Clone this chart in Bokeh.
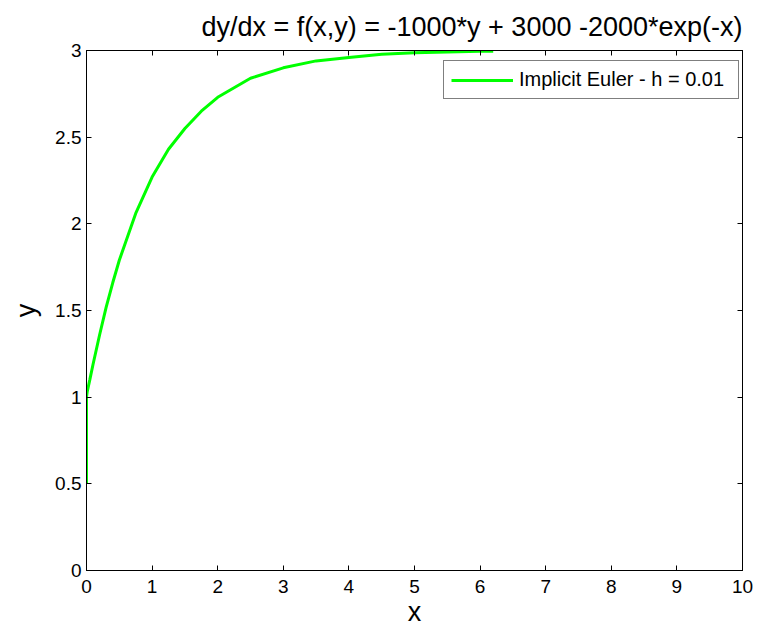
from bokeh.plotting import figure
from bokeh.models import LinearAxis, FixedTicker, Legend, LegendItem, Range1d
from bokeh.embed import file_html
from bokeh.resources import INLINE

# data
x_vals = [0, 0, 0.01, 0.05, 0.1, 0.2, 0.3, 0.4, 0.5, 0.75, 1.0, 1.25, 1.5, 1.75, 2.0,
          2.5, 3.0, 3.5, 4.0, 4.5, 5.0, 5.5, 6.0, 6.2]
y_vals = [0.5, 1.0, 1.03, 1.10, 1.19, 1.36, 1.52, 1.66, 1.79, 2.06, 2.27, 2.43, 2.55,
          2.65, 2.73, 2.84, 2.90, 2.94, 2.96, 2.978, 2.987, 2.992, 2.995, 2.996]
x_ticks = [0, 1, 2, 3, 4, 5, 6, 7, 8, 9, 10]
y_ticks = [0, 0.5, 1, 1.5, 2, 2.5, 3]
y_tick_labels = ["0", "0.5", "1", "1.5", "2", "2.5", "3"]
series_label = "Implicit Euler - h = 0.01"
title_text = "dy/dx = f(x,y) = -1000*y + 3000 -2000*exp(-x)"

FONT = "Liberation Sans"

p = figure(width=753, height=629, output_backend="svg", toolbar_location=None,
           x_range=Range1d(0, 10), y_range=Range1d(0, 3),
           min_border_left=86, min_border_right=11, min_border_top=50, min_border_bottom=59,
           title=title_text)
p.title.align = "right"
p.title.text_font = FONT
p.title.text_font_size = "27px"
p.title.text_font_style = "normal"
p.title.text_color = "black"
p.title.offset = 0
p.title.standoff = 17

p.xgrid.visible = False
p.ygrid.visible = False
p.outline_line_color = "black"
p.outline_line_width = 1
p.outline_line_alpha = 1

r = p.line(x_vals, y_vals, line_color="#00ff00", line_width=3)

def style_axis(ax, show_labels=True):
    ax.axis_line_color = "black"
    ax.major_tick_line_color = "black"
    ax.major_tick_in = 5
    ax.major_tick_out = 0
    ax.minor_tick_line_color = None
    ax.major_label_text_font = FONT
    ax.major_label_text_font_size = "19px"
    ax.major_label_text_color = "black"
    ax.major_label_standoff = 5
    if not show_labels:
        ax.major_label_text_alpha = 0
        ax.major_label_text_font_size = "0px"
        ax.major_label_standoff = 0

xaxis = p.xaxis[0]
yaxis = p.yaxis[0]
xaxis.ticker = FixedTicker(ticks=x_ticks)
yaxis.ticker = FixedTicker(ticks=y_ticks)
yaxis.major_label_overrides = {t: l for t, l in zip(y_ticks, y_tick_labels)}
style_axis(xaxis)
style_axis(yaxis)
xaxis.major_label_standoff = 9
xaxis.axis_label = "x"
yaxis.axis_label = "y"
for ax in (xaxis, yaxis):
    ax.axis_label_text_font = FONT
    ax.axis_label_text_font_size = "27px"
    ax.axis_label_text_font_style = "normal"
    ax.axis_label_text_color = "black"
xaxis.axis_label_standoff = 1
yaxis.axis_label_standoff = 11

top = LinearAxis(ticker=FixedTicker(ticks=x_ticks))
style_axis(top, show_labels=False)
p.add_layout(top, "above")
right = LinearAxis(ticker=FixedTicker(ticks=y_ticks))
style_axis(right, show_labels=False)
p.add_layout(right, "right")

legend = Legend(items=[LegendItem(label=series_label, renderers=[r])],
                location=(357, 471))
legend.label_text_font = FONT
legend.label_text_font_size = "20px"
legend.label_text_color = "black"
legend.border_line_color = "black"
legend.border_line_width = 1
legend.background_fill_color = "white"
legend.background_fill_alpha = 1
legend.glyph_width = 62
legend.glyph_height = 20
legend.label_standoff = 6
legend.label_height = 20
legend.label_width = 212
legend.padding = 7
legend.margin = 0
p.add_layout(legend)

open("out.html", "w").write(file_html(p, INLINE))
